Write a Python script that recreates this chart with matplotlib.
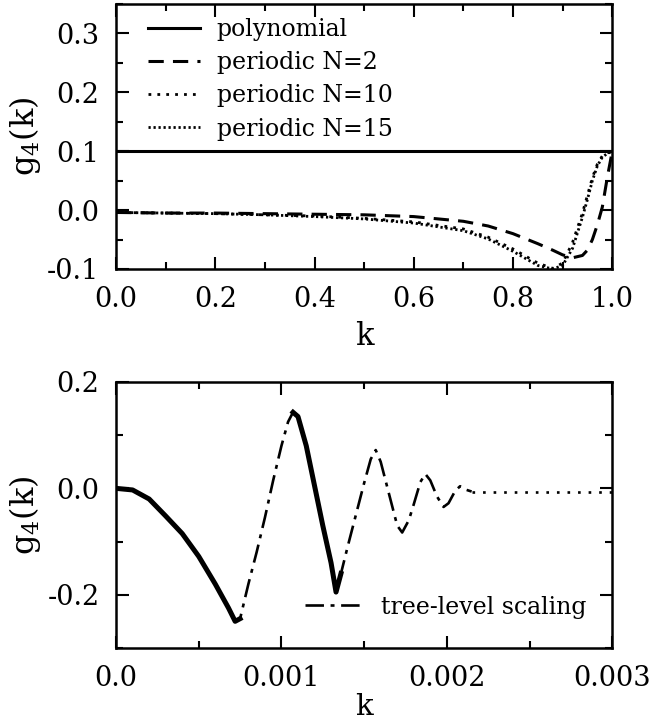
import matplotlib
matplotlib.use("Agg")
import matplotlib.pyplot as plt
from matplotlib.ticker import MultipleLocator

plt.rcParams['font.family'] = ['DejaVu Serif']
plt.rcParams['mathtext.fontset'] = 'dejavuserif'

# upper panel: g4(k) for the polynomial and periodic weightings
k_top = [0.0, 0.1, 0.2, 0.3, 0.4, 0.5, 0.6, 0.7, 0.75, 0.8, 0.85, 0.88, 0.9, 0.92, 0.94,
         0.95, 0.96, 0.97, 0.98, 0.99, 1.0]
g_poly = [0.1] * len(k_top)
g_n2 = [-0.004, -0.005, -0.005, -0.006, -0.007, -0.008, -0.011, -0.019, -0.027, -0.040,
        -0.057, -0.068, -0.076, -0.081, -0.077, -0.068, -0.050, -0.025, 0.005, 0.055, 0.100]
g_n10 = [-0.004, -0.005, -0.006, -0.008, -0.010, -0.014, -0.020, -0.032, -0.046, -0.066,
         -0.090, -0.099, -0.090, -0.055, -0.005, 0.025, 0.055, 0.078, 0.092, 0.097, 0.100]
g_n15 = [-0.004, -0.005, -0.006, -0.008, -0.011, -0.015, -0.022, -0.035, -0.049, -0.070,
         -0.094, -0.100, -0.094, -0.065, -0.012, 0.018, 0.050, 0.075, 0.090, 0.096, 0.100]

# lower panel: tree-level scaling curve and its flat tail
k_tree = [0.0, 0.0001, 0.0002, 0.0003, 0.0004, 0.0005, 0.0006, 0.00068, 0.00072, 0.00075,
          0.0008, 0.00085, 0.0009, 0.00095, 0.001, 0.00104, 0.00107, 0.0011, 0.00115,
          0.0012, 0.00125, 0.0013, 0.00133, 0.00136, 0.0014, 0.00145, 0.0015, 0.00154,
          0.00157, 0.0016, 0.00165, 0.0017, 0.00173, 0.00177, 0.0018, 0.00184, 0.00187,
          0.0019, 0.00194, 0.00198, 0.00201, 0.00205, 0.00208, 0.00211, 0.00215]
g_tree = [0.0, -0.003, -0.020, -0.052, -0.085, -0.128, -0.180, -0.225, -0.250, -0.245,
          -0.180, -0.120, -0.055, 0.015, 0.080, 0.125, 0.143, 0.135, 0.080,
          0.005, -0.070, -0.140, -0.195, -0.160, -0.110, -0.050, 0.010, 0.055,
          0.072, 0.050, -0.010, -0.070, -0.083, -0.060, -0.030, 0.012, 0.027,
          0.015, -0.015, -0.035, -0.028, -0.005, 0.004, -0.002, -0.006]
k_tail = [0.00215, 0.0030]
g_tail = [-0.006, -0.006]


def style_axes(ax):
    ax.tick_params(which='both', direction='in', top=True, right=True, width=1.5,
                   labelsize=19.5, pad=12)
    ax.tick_params(which='major', length=9)
    ax.tick_params(which='minor', length=5)
    for s in ax.spines.values():
        s.set_linewidth(1.8)


fig = plt.figure(figsize=(6.52, 7.28), dpi=100)
ax1 = fig.add_axes([0.178, 0.6305, 0.761, 0.364])
ax2 = fig.add_axes([0.178, 0.110, 0.761, 0.3653])

ax1.plot(k_top, g_poly, color='black', lw=2.2, label='polynomial')
ax1.plot(k_top, g_n2, color='black', lw=2.2, dashes=(5, 3), label='periodic N=2')
ax1.plot(k_top, g_n10, color='black', lw=2, dashes=(1, 2.2), label='periodic N=10')
ax1.plot(k_top, g_n15, color='black', lw=2, dashes=(0.8, 1.0), label='periodic N=15')
ax1.set_xlim(0, 1)
ax1.set_ylim(-0.1, 0.35)
ax1.xaxis.set_major_locator(MultipleLocator(0.2))
ax1.xaxis.set_minor_locator(MultipleLocator(0.1))
ax1.yaxis.set_major_locator(MultipleLocator(0.1))
ax1.yaxis.set_minor_locator(MultipleLocator(0.05))
ax1.xaxis.set_major_formatter(lambda v, p: f'{v:.1f}')
ax1.yaxis.set_major_formatter(lambda v, p: f'{v:.1f}')
style_axes(ax1)
ax1.set_xlabel('k', fontsize=22, labelpad=6)
ax1.set_ylabel(r'g$_4$(k)', fontsize=23, labelpad=3)
ax1.legend(loc='upper left', bbox_to_anchor=(0.036, 1.0), frameon=False, fontsize=17,
           handlelength=2.2, handletextpad=0.7, labelspacing=0.43, borderaxespad=0.2)

ax2.plot(k_tree, g_tree, color='black', lw=1.9, dashes=(7, 2.5, 1.5, 2.5),
         label='tree-level scaling')
# dense measured stretches drawn as heavy solid strokes
ax2.plot(k_tree[:10], g_tree[:10], color='black', lw=3.6)
ax2.plot(k_tree[16:24], g_tree[16:24], color='black', lw=3.6)
ax2.plot(k_tail, g_tail, color='black', lw=1.9, dashes=(1, 3))
ax2.set_xlim(0, 0.003)
ax2.set_ylim(-0.3, 0.2)
ax2.xaxis.set_major_locator(MultipleLocator(0.001))
ax2.xaxis.set_minor_locator(MultipleLocator(0.0005))
ax2.yaxis.set_major_locator(MultipleLocator(0.2))
ax2.yaxis.set_minor_locator(MultipleLocator(0.1))
ax2.xaxis.set_major_formatter(lambda v, p: '0.0' if abs(v) < 1e-12 else f'{v:.3f}')
ax2.yaxis.set_major_formatter(lambda v, p: f'{v:.1f}')
style_axes(ax2)
ax2.set_xlabel('k', fontsize=21, labelpad=1)
ax2.set_ylabel(r'g$_4$(k)', fontsize=23, labelpad=3)
ax2.legend(loc='lower right', bbox_to_anchor=(0.99, 0.03), frameon=False, fontsize=17,
           handlelength=2.4, handletextpad=0.8)

fig.savefig('out.png', dpi=100)
